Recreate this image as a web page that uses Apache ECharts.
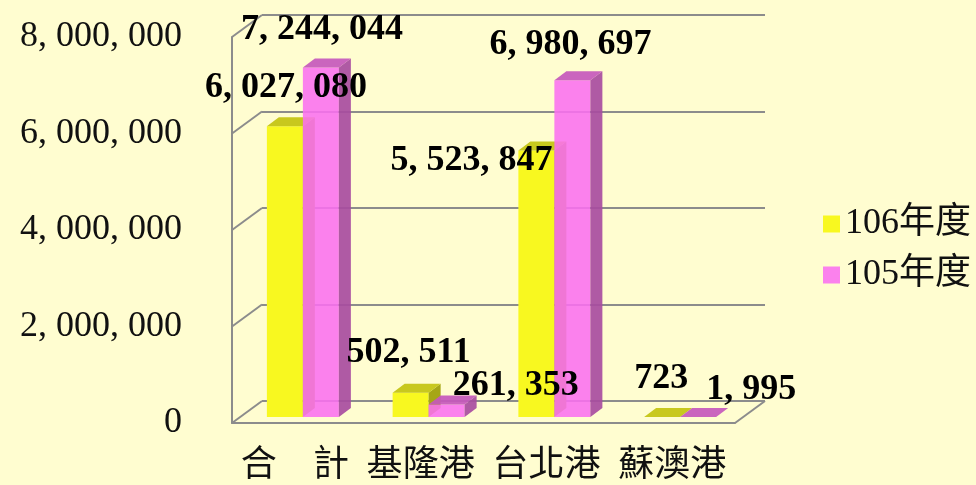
<!DOCTYPE html>
<html><head><meta charset="utf-8">
<script src="https://cdn.jsdelivr.net/npm/echarts@6/dist/echarts.min.js"></script>
<style>html,body{margin:0;padding:0;background:#FFFDD0}#c{width:976px;height:485px}</style>
</head><body><div id="c"></div><script>
// ---- data ----
const categories = ['合　計', '基隆港', '台北港', '蘇澳港'];
const seriesNames = ['106年度', '105年度'];
const values106 = [6027080, 502511, 5523847, 723];
const values105 = [7244044, 261353, 6980697, 1995];
const yTicks = [0, 2000000, 4000000, 6000000, 8000000];
const yMin = 0, yMax = 8000000, yInterval = 2000000;

// ---- layout / style ----
const FONT = "'Liberation Serif','Noto Sans CJK TC',serif";
const BAR_W = 36, DEP_X = 12, DEP_Y = 9, WALL_X = 30, WALL_Y = 22;
const GRID_COLOR = '#8c8c8c';
const labelNudge = [
  [[1, 0], [-2, -2], [-65, 48], [-1, 0]],
  [[1, 0], [69, 19], [-2, 3], [53, 11]]
];
const frontColors = ['#F8F820', 'rgba(250,112,240,0.88)'];
const topColors = ['#C8C81E', 'rgba(198,88,188,0.92)'];
const sideColors = ['#A6A616', 'rgba(168,76,160,0.92)'];

const fmt = v => v.toLocaleString('en-US').replace(/,/g, ', ');
const allValues = [values106, values105];

function faceSeries(s) {
  return {
    type: 'custom', xAxisIndex: 0, yAxisIndex: 0, z: 3 + s * 2, silent: true,
    data: allValues[s].map((v, i) => [i, v]),
    renderItem: function (params, api) {
      const i = api.value(0), v = api.value(1);
      const c = api.coord([i, v]);
      const b = api.coord([i, 0]);
      const x0 = c[0] + (s === 0 ? -BAR_W : 0);
      const x1 = x0 + BAR_W;
      const yT = c[1], yB = b[1];
      return {
        type: 'group', children: [
          { type: 'polygon', shape: { points: [[x1, yT], [x1 + DEP_X, yT - DEP_Y], [x1 + DEP_X, yB - DEP_Y], [x1, yB]] }, style: { fill: sideColors[s] } },
          { type: 'polygon', shape: { points: [[x0, yT], [x1, yT], [x1 + DEP_X, yT - DEP_Y], [x0 + DEP_X, yT - DEP_Y]] }, style: { fill: topColors[s] } }
        ]
      };
    }
  };
}

const labelData = [];
allValues.forEach((arr, s) => arr.forEach((v, i) => labelData.push([i, v, s])));

const chart = echarts.init(document.getElementById('c'), null, { renderer: 'canvas' });
chart.setOption({
  backgroundColor: '#FFFDD0',
  animation: false,
  textStyle: { fontFamily: FONT },
  legend: {
    orient: 'vertical', left: 818, top: 201,
    itemWidth: 17, itemHeight: 17, itemGap: 15,
    textStyle: { fontSize: 36, fontFamily: FONT, color: '#111', lineHeight: 36, padding: [0, 0, 0, 0] },
    data: seriesNames.map(n => ({ name: n, icon: 'rect' }))
  },
  grid: [
    { left: 240, top: 31, width: 503, height: 386 },   // bar plane
    { left: 262, top: 15, width: 503, height: 386 },   // back wall
    { left: 232, top: 37, width: 503, height: 386 }    // front plane
  ],
  xAxis: [
    { type: 'category', gridIndex: 0, data: categories, show: false },
    { type: 'category', gridIndex: 1, data: categories, show: false },
    { type: 'category', gridIndex: 2, data: categories,
      axisLine: { show: true, lineStyle: { color: GRID_COLOR, width: 2 } },
      axisTick: { show: false },
      axisLabel: { interval: 0, fontSize: 36, fontFamily: FONT, color: '#111', margin: 26, lineHeight: 36 } }
  ],
  yAxis: [
    { type: 'value', gridIndex: 0, min: yMin, max: yMax, interval: yInterval, show: false },
    { type: 'value', gridIndex: 1, min: yMin, max: yMax, interval: yInterval,
      axisLine: { show: false }, axisTick: { show: false }, axisLabel: { show: false },
      splitLine: { show: true, lineStyle: { color: GRID_COLOR, width: 2 } } },
    { type: 'value', gridIndex: 2, min: yMin, max: yMax, interval: yInterval,
      axisLine: { show: true, lineStyle: { color: GRID_COLOR, width: 2 } },
      axisTick: { show: false }, splitLine: { show: false },
      axisLabel: { fontSize: 36, fontFamily: FONT, color: '#111', margin: 50, formatter: v => fmt(v) } }
  ],
  series: [
    // left wall diagonals
    {
      type: 'custom', xAxisIndex: 1, yAxisIndex: 1, z: 1, silent: true,
      data: yTicks.map(t => [0, t]),
      renderItem: function (params, api) {
        const cs = params.coordSys;
        const y = api.coord([0, api.value(1)])[1];
        return { type: 'line', shape: { x1: cs.x - WALL_X, y1: y + WALL_Y, x2: cs.x, y2: y }, style: { stroke: GRID_COLOR, lineWidth: 2 } };
      }
    },
    // floor right edge
    {
      type: 'custom', xAxisIndex: 1, yAxisIndex: 1, z: 1, silent: true,
      data: [[0, yMin]],
      renderItem: function (params, api) {
        const cs = params.coordSys;
        const y = api.coord([0, api.value(1)])[1];
        return { type: 'line', shape: { x1: cs.x + cs.width, y1: y, x2: cs.x + cs.width - WALL_X, y2: y + WALL_Y }, style: { stroke: GRID_COLOR, lineWidth: 2 } };
      }
    },
    { name: seriesNames[0], type: 'bar', xAxisIndex: 0, yAxisIndex: 0, z: 2, data: values106,
      barWidth: BAR_W, barGap: '0%', itemStyle: { color: frontColors[0] } },
    faceSeries(0),
    { name: seriesNames[1], type: 'bar', xAxisIndex: 0, yAxisIndex: 0, z: 4, data: values105,
      barWidth: BAR_W, barGap: '0%', itemStyle: { color: frontColors[1] } },
    faceSeries(1),
    // data labels
    {
      type: 'custom', xAxisIndex: 0, yAxisIndex: 0, z: 10, silent: true,
      data: labelData,
      renderItem: function (params, api) {
        const i = api.value(0), v = api.value(1), s = api.value(2);
        const c = api.coord([i, v]);
        const n = labelNudge[s][i];
        return {
          type: 'text',
          style: {
            text: fmt(v), x: c[0] + (s === 0 ? -BAR_W / 2 : BAR_W / 2) + n[0], y: c[1] - 38 + n[1],
            align: 'center', verticalAlign: 'middle',
            fontSize: 36, fontWeight: 'bold', fontFamily: FONT, fill: '#000'
          }
        };
      }
    }
  ]
});
</script></body></html>
